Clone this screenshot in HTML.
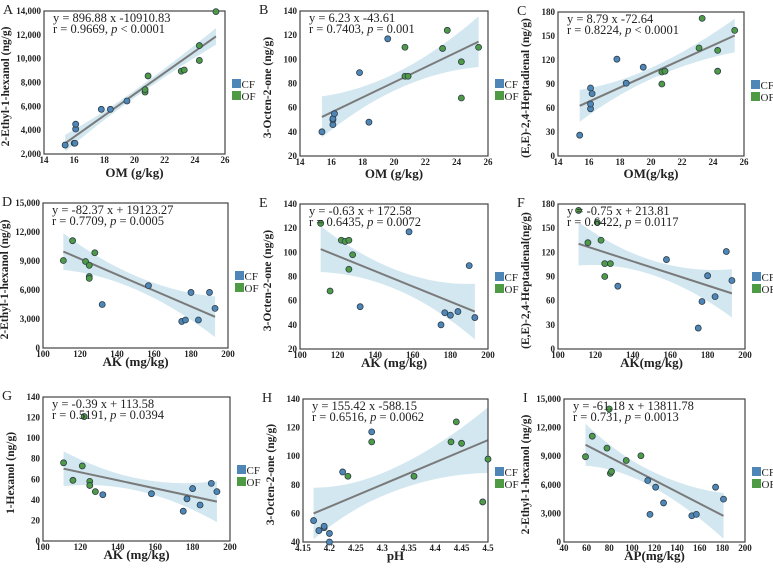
<!DOCTYPE html>
<html><head><meta charset="utf-8"><style>
body{margin:0;background:#fff;}
svg text{font-family:"Liberation Serif",serif;}
</style></head><body>
<svg id="fig" width="773" height="563" viewBox="0 0 773 563" xmlns="http://www.w3.org/2000/svg"></svg>
<script>
// ---- Data ----
const A_cf_x=[15.4,16.0,16.05,16.1,16.1,17.8,18.4,19.5];
const A_cf_y=[2750,2900,2900,4100,4500,5750,5750,6450];
const A_of_x=[20.7,20.7,20.9,23.1,23.3,24.3,24.3,25.4];
const A_of_y=[7200,7400,8550,8950,9050,9850,11100,13950];
const A_fit=[896.88,-10910.83];
const A_ci=[700,300,700];

const B_cf_x=[15.4,16.1,16.1,16.1,16.2,17.8,18.4,19.6];
const B_cf_y=[40,46,50,51,55,89,48,117];
const B_of_x=[20.7,20.7,20.9,23.1,23.4,24.3,24.3,25.4];
const B_of_y=[110,86,86,109,124,98,68,110];
const B_fit=[6.23,-43.61];
const B_ci=[17,7,21];

const C_cf_x=[15.4,16.1,16.1,16.1,16.2,17.8,18.4,19.5];
const C_cf_y=[26,59,65,85,78,121,91,111];
const C_of_x=[20.7,20.7,20.9,23.1,23.3,24.3,24.3,25.4];
const C_of_y=[105,90,106,135,172,132,106,157];
const C_fit=[8.79,-72.64];
const C_ci=[20,7,21];

const D_cf_x=[132,157,175,177,180,184,190,193];
const D_cf_y=[4500,6450,2750,2900,5750,2900,5750,4100];
const D_of_x=[111,116,123,125,125,125,128];
const D_of_y=[9050,11100,8950,8550,7400,7200,9850];
const D_fit=[-82.37,19123.27];
const D_ci=[1900,700,2100];

const E_cf_x=[132,158,175,177,180,184,190,193];
const E_cf_y=[55,117,40,50,48,51,89,46];
const E_of_x=[111,116,122,124,126,126,128];
const E_of_y=[124,68,110,109,110,86,98];
const E_fit=[-0.63,172.58];
const E_ci=[19,8,23];

const F_cf_x=[132,158,175,177,180,184,190,193];
const F_cf_y=[78,111,26,59,91,65,121,85];
const F_of_x=[111,116,121,123,125,125,128];
const F_of_y=[172,132,157,135,106,90,106];
const F_fit=[-0.75,213.81];
const F_ci=[27,9,30];

const G_cf_x=[132,158,175,177,180,184,190,193];
const G_cf_y=[45,46,29,41,51,35,56,48];
const G_of_x=[111,116,121,122,125,125,128];
const G_of_y=[76,59,73,121,58,54,48];
const G_fit=[-0.39,113.58];
const G_ci=[17,6,20];

const H_cf_x=[4.17,4.18,4.19,4.19,4.2,4.2,4.225,4.28];
const H_cf_y=[55,48,50,51,46,40,89,117];
const H_of_x=[4.235,4.28,4.36,4.43,4.44,4.45,4.49,4.5];
const H_of_y=[86,110,86,110,124,109,68,98];
const H_fit=[155.42,-588.15];
const H_ci=[18,8,23];

const I_cf_x=[114,116,121,128,153,157,174,181];
const I_cf_y=[6450,2900,5750,4100,2750,2900,5750,4500];
const I_of_x=[59,65,78,80,81,82,95,108];
const I_of_y=[8950,11100,9850,13950,7200,7400,8550,9050];
const I_fit=[-61.18,13811.78];
const I_ci=[2200,800,2400];

const xTicksOM=[14,16,18,20,22,24,26];
const xTicksAK=[100,120,140,160,180,200];
const xTicksPH=[4.15,4.2,4.25,4.3,4.35,4.4,4.45,4.5];
const xTicksAP=[40,60,80,100,120,140,160,180,200];
const yTicks2EH_A=[2000,4000,6000,8000,10000,12000,14000];
const yTicks2EH=[0,3000,6000,9000,12000,15000];
const yTicksOct=[20,40,60,80,100,120,140];
const yTicksOct2=[40,60,80,100,120,140];
const yTicksHep=[0,30,60,90,120,150,180];
const yTicksHex=[0,20,40,60,80,100,120,140];

const panels=[
 {id:'A',box:[44,225,11,154],xo:23,xd:[14,26],yd:[2000,14000],xt:xTicksOM,yt:yTicks2EH_A,cx:A_cf_x,cy:A_cf_y,ox:A_of_x,oy:A_of_y,fit:A_fit,ci:A_ci,xl:'OM (g/kg)',yl:'2-Ethyl-1-hexanol (ng/g)',eq:['y = 896.88 x -10910.83','r = 0.9669, ','p',' < 0.0001'],comma:true},
 {id:'B',box:[300,488,11,156],xo:22,xd:[14,26],yd:[20,140],xt:xTicksOM,yt:yTicksOct,cx:B_cf_x,cy:B_cf_y,ox:B_of_x,oy:B_of_y,fit:B_fit,ci:B_ci,xl:'OM (g/kg)',yl:'3-Octen-2-one (ng/g)',eq:['y = 6.23 x -43.61','r = 0.7403, ','p','  = 0.001']},
 {id:'C',box:[558,744,12,156],xo:22,xd:[14,26],yd:[0,180],xt:xTicksOM,yt:yTicksHep,cx:C_cf_x,cy:C_cf_y,ox:C_of_x,oy:C_of_y,fit:C_fit,ci:C_ci,xl:'OM(g/kg)',yl:'(E,E)-2,4-Heptadienal (ng/g)',eq:['y = 8.79 x -72.64','r = 0.8224, ','p','  < 0.0001']},
 {id:'D',box:[43,228,203,348],xo:18,xd:[100,200],yd:[0,15000],xt:xTicksAK,yt:yTicks2EH,cx:D_cf_x,cy:D_cf_y,ox:D_of_x,oy:D_of_y,fit:D_fit,ci:D_ci,xl:'AK (mg/kg)',yl:'2-Ethyl-1-hexanol (ng/g)',eq:['y = -82.37 x + 19123.27','r = 0.7709, ','p',' = 0.0005'],comma:true},
 {id:'E',box:[300,488,204,349],xo:18,xd:[100,200],yd:[20,140],xt:xTicksAK,yt:yTicksOct,cx:E_cf_x,cy:E_cf_y,ox:E_of_x,oy:E_of_y,fit:E_fit,ci:E_ci,xl:'AK (mg/kg)',yl:'3-Octen-2-one (ng/g)',eq:['y = -0.63  x + 172.58','r = 0.6435, ','p',' = 0.0072']},
 {id:'F',box:[558,745,204,349],xo:18,xd:[100,200],yd:[0,180],xt:xTicksAK,yt:yTicksHep,cx:F_cf_x,cy:F_cf_y,ox:F_of_x,oy:F_of_y,fit:F_fit,ci:F_ci,xl:'AK(mg/kg)',yl:'(E,E)-2,4-Heptadienal(ng/g)',eq:['y = -0.75 x + 213.81','r = 0.6422, ','p',' = 0.0117']},
 {id:'G',box:[43,230,397,541],xo:18,xd:[100,200],yd:[0,140],xt:xTicksAK,yt:yTicksHex,cx:G_cf_x,cy:G_cf_y,ox:G_of_x,oy:G_of_y,fit:G_fit,ci:G_ci,xl:'AK (mg/kg)',yl:'1-Hexanol (ng/g)',eq:['y = -0.39 x + 113.58','r = 0.5191, ','p',' = 0.0394']},
 {id:'H',box:[303,488,399,542],xo:18,xd:[4.15,4.5],yd:[40,140],xt:xTicksPH,yt:yTicksOct2,cx:H_cf_x,cy:H_cf_y,ox:H_of_x,oy:H_of_y,fit:H_fit,ci:H_ci,xl:'pH',yl:'3-Octen-2-one (ng/g)',eq:['y = 155.42 x -588.15','r = 0.6516, ','p',' = 0.0062']},
 {id:'I',box:[564,745,399,542],xo:18,xd:[40,200],yd:[0,15000],xt:xTicksAP,yt:yTicks2EH,cx:I_cf_x,cy:I_cf_y,ox:I_of_x,oy:I_of_y,fit:I_fit,ci:I_ci,xl:'AP(mg/kg)',yl:'2-Ethyl-1-hexanol (ng/g)',eq:['y = -61.18 x + 13811.78','r = 0.731, ','p',' = 0.0013'],comma:true}
];

const NS='http://www.w3.org/2000/svg';
const svg=document.getElementById('fig');
function mk(tag,attrs,parent){const e=document.createElementNS(NS,tag);for(const k in attrs)e.setAttribute(k,attrs[k]);(parent||svg).appendChild(e);return e;}
function fmt(v,comma){return comma?v.toLocaleString('en-US'):String(v);}

panels.forEach(p=>{
  const g=mk('g',{});
  
  
  const [x0,x1,y0,y1]=p.box;
  const sx=v=>x0+(v-p.xd[0])/(p.xd[1]-p.xd[0])*(x1-x0);
  const sy=v=>y1-(v-p.yd[0])/(p.yd[1]-p.yd[0])*(y1-y0);
  const allx=p.cx.concat(p.ox);
  const xmin=Math.min(...allx),xmax=Math.max(...allx),xm=allx.reduce((a,b)=>a+b,0)/allx.length;
  const f=x=>p.fit[0]*x+p.fit[1];
  const hw=x=>{const half=(x<xm)?(xm-xmin):(xmax-xm);const end=(x<xm)?p.ci[0]:p.ci[2];const t=Math.abs(x-xm)/half;return p.ci[1]+(end-p.ci[1])*t*t;};
  const N=40;let up=[],dn=[];
  for(let i=0;i<=N;i++){const x=xmin+(xmax-xmin)*i/N;up.push(sx(x)+','+sy(f(x)+hw(x)));dn.push(sx(x)+','+sy(f(x)-hw(x)));}
  const band=mk('polygon',{points:up.concat(dn.reverse()).join(' '),fill:'#cde4ee',opacity:0.9},g);
  
  
  const ln=mk('line',{x1:sx(xmin),y1:sy(f(xmin)),x2:sx(xmax),y2:sy(f(xmax)),stroke:'#7a7a7a','stroke-width':2},g);
  
  
  const fr=mk('rect',{x:x0,y:y0,width:x1-x0,height:y1-y0,fill:'none',stroke:'#444','stroke-width':1.2},g);
  
  
  const drawPts=(xs,ys,col,name)=>xs.forEach((x,i)=>{const y=ys[i];if(y>p.yd[1]||y<p.yd[0]-1)return;
    const c=mk('circle',{cx:sx(x),cy:sy(y),r:3,fill:col,stroke:'#2d3e4a','stroke-width':0.8},g);
    
    });
  drawPts(p.cx,p.cy,'#4f86b8','cf-point');
  drawPts(p.ox,p.oy,'#4e9a45','of-point');
  p.xt.forEach(v=>{const t=mk('text',{x:sx(v),y:y1+9,'text-anchor':'middle','font-size':9,'font-weight':'bold',fill:'#222'},g);t.textContent=fmt(v,false);
    
    });
  p.yt.forEach(v=>{const t=mk('text',{x:x0-3,y:sy(v)+3,'text-anchor':'end','font-size':9,'font-weight':'bold',fill:'#222'},g);t.textContent=fmt(v,p.comma);
    
    });
  const xt=mk('text',{x:(x0+x1)/2,y:y1+p.xo,'text-anchor':'middle','font-size':13,'font-weight':'bold',fill:'#222'},g);xt.textContent=p.xl;
  
  
  const yx=x0-(p.comma?35:29), yc=(y0+y1)/2+4;
  const yt=mk('text',{x:yx,y:yc,'text-anchor':'middle','font-size':11.5,'font-weight':'bold',fill:'#222',transform:`rotate(-90 ${yx} ${yc})`},g);yt.textContent=p.yl;
  
  
  const e1=mk('text',{x:x0+9,y:y0+11,'font-size':12.5,fill:'#222'},g);e1.textContent=p.eq[0];
  
  
  const e2=mk('text',{x:x0+9,y:y0+22,'font-size':12.5,fill:'#222'},g);
  
  
  const s1=mk('tspan',{},e2);s1.textContent=p.eq[1];
  const s2=mk('tspan',{'font-style':'italic'},e2);s2.textContent=p.eq[2];
  const s3=mk('tspan',{},e2);s3.textContent=p.eq[3];
  const pl=mk('text',{x:x0-41,y:y0+3,'font-size':14,fill:'#222'},g);pl.textContent=p.id;
  
  
  [['CF','#4f86b8'],['OF','#4e9a45']].forEach((l,i)=>{
    const ly=y0+68+i*12;
    const r=mk('rect',{x:x1+7,y:ly,width:9,height:9,fill:l[1]},g);
    
    
    const t=mk('text',{x:x1+16.5,y:ly+9,'font-size':11,fill:'#222'},g);t.textContent=l[0];
    
    
  });
});
</script>
</body></html>
